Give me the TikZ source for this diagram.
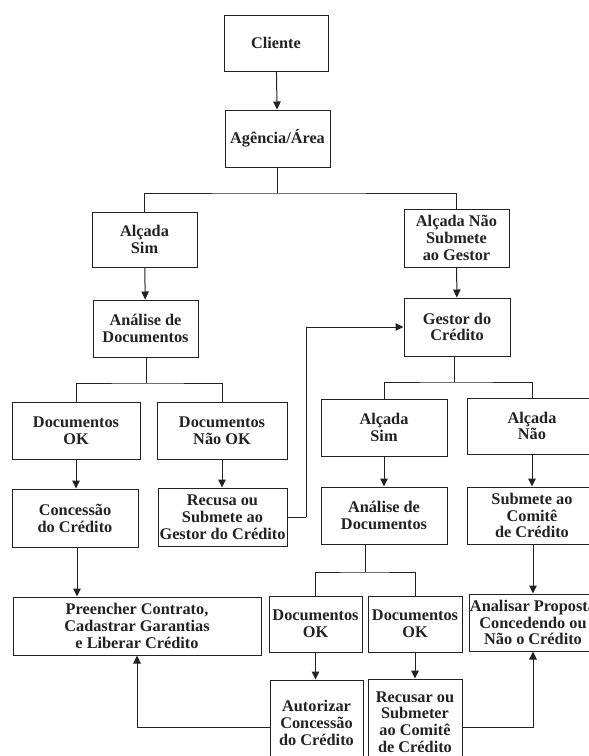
\documentclass[tikz,border=0pt]{standalone}
\usepackage{fontspec}
\setmainfont{Liberation Serif}
\usetikzlibrary{arrows.meta}
\definecolor{ink}{HTML}{222222}
\tikzset{
  box/.style={draw=ink, line width=1pt, align=center, inner sep=0pt, text=ink,
    font=\fontsize{16.3}{16.8}\selectfont\bfseries},
  wire/.style={draw=ink, line width=1pt},
  arr/.style={wire, -{Triangle[length=8pt,width=7.5pt]}}
}
\newcommand{\bx}[6]{\node[box, minimum width=#4pt, minimum height=#5pt] (#1) at (#2,#3) {#6};}
\begin{document}
\begin{tikzpicture}[x=1pt,y=-1pt]
\useasboundingbox (0,0) rectangle (589,756);
\fill[white] (0,0) rectangle (589,756);
\clip (0,0) rectangle (589,756);
% boxes
\bx{cliente}{276}{43}{104}{56}{Cliente}
\bx{agencia}{277.5}{138.5}{105}{57}{Agência/Área}
\bx{alsim}{144.5}{239.5}{105}{55}{Alçada\\Sim}
\bx{analise}{145.5}{328.5}{105}{57}{Análise de\\Documentos}
\bx{docok}{76}{430.5}{128}{57}{Documentos\\OK}
\bx{docnok}{222}{430.5}{130}{57}{Documentos\\Não OK}
\bx{concessao}{75}{518}{126}{58}{Concessão\\do Crédito}
\bx{recusa}{222.5}{517}{129}{58}{Recusa ou\\Submete ao\\Gestor do Crédito}
\bx{preencher}{137}{626}{248}{58}{Preencher Contrato,\\Cadastrar Garantias\\e Liberar Crédito}
\bx{alnao}{456.5}{238}{105}{58}{Alçada Não\\Submete\\ao Gestor}
\bx{gestor}{457}{327}{106}{58}{Gestor do\\Crédito}
\bx{alsimb}{384}{427.5}{126}{57}{Alçada\\Sim}
\bx{alnaob}{532}{426}{130}{56}{Alçada\\Não}
\bx{analiseb}{384}{515.5}{126}{57}{Análise de\\Documentos}
\bx{submete}{532}{515.5}{130}{57}{Submete ao\\Comitê\\de Crédito}
\bx{docoka}{315.5}{624}{93}{56}{Documentos\\OK}
\bx{docokb}{415}{624}{94}{56}{Documentos\\OK}
\bx{analisar}{533}{622.5}{128}{57}{Analisar Proposta\\Concedendo ou\\Não o Crédito}
\bx{autorizar}{316.5}{723}{93}{86}{Autorizar\\Concessão\\do Crédito}
\bx{recusar}{415}{722}{94}{86}{Recusar ou\\Submeter\\ao Comitê\\de Crédito}
% junction points
\coordinate (j1) at (277.5,193);
\coordinate (j2) at (146,383);
\coordinate (j3) at (454,382);
\coordinate (j4) at (365,572);
\coordinate (r1) at (306,517);
% connectors
\draw[arr] (cliente) -- (agencia);
\draw[wire] (agencia) -- (j1);
\draw[wire] (alsim.north) |- (j1) -| (alnao.north);
\draw[arr] (alsim) -- (analise);
\draw[wire] (analise.south -| j2) -- (j2);
\draw[wire] (docok.north) |- (j2) -| (docnok.north);
\draw[arr] (docok) -- (concessao.north -| docok);
\draw[arr] (docnok) -- (recusa.north -| docnok);
\draw[arr] (concessao.south -| 77,0) -- (preencher.north -| 77,0);
\draw[wire] (recusa.east) -- (r1);
\draw[arr] (r1) |- (gestor.west);
\draw[arr] (alnao) -- (gestor);
\draw[wire] (gestor.south -| j3) -- (j3);
\draw[wire] (alsimb.north) |- (j3) -| (alnaob.north);
\draw[arr] (alsimb) -- (analiseb);
\draw[arr] (alnaob) -- (submete);
\draw[wire] (analiseb.south -| j4) -- (j4);
\draw[wire] (docoka.north) |- (j4) -| (docokb.north);
\draw[arr] (submete.south -| analisar) -- (analisar);
\draw[arr] (docoka) -- (autorizar.north -| docoka);
\draw[arr] (docokb) -- (recusar);
\draw[arr] ([yshift=-4pt]autorizar.west) -| (preencher.south);
\draw[arr] ([yshift=-5pt]recusar.east) -| (analisar.south);
\end{tikzpicture}
\end{document}
